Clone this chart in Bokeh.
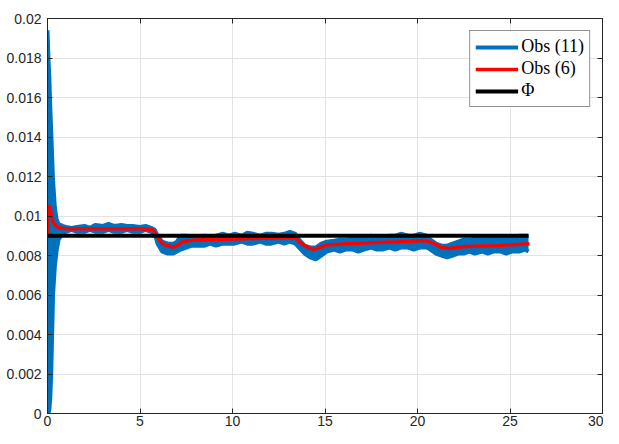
from bokeh.plotting import figure
from bokeh.models import Range1d, LinearAxis, FixedTicker, Legend, LegendItem
from bokeh.embed import file_html
from bokeh.resources import INLINE

# ---- data ----
x_ticks = [0, 5, 10, 15, 20, 25, 30]
y_ticks = [0, 0.002, 0.004, 0.006, 0.008, 0.01, 0.012, 0.014, 0.016, 0.018, 0.02]
y_tick_labels = ["0", "0.002", "0.004", "0.006", "0.008", "0.01",
                 "0.012", "0.014", "0.016", "0.018", "0.02"]

# Obs (11): noisy signal, given as its upper / lower envelope
blue_x = [0, 0.05, 0.1, 0.15, 0.2, 0.25, 0.3, 0.4, 0.5, 0.6, 0.8, 1.0, 1.3, 1.6, 2.0,
          2.3, 2.6, 3.0, 3.3, 3.6, 4.0, 4.3, 4.6, 5.0, 5.3, 5.6, 5.8, 5.95, 6.2, 6.5,
          6.8, 7.0, 7.2, 7.5, 7.8, 8.1, 8.5, 8.8, 9.1, 9.5, 9.8, 10.1, 10.5, 10.8, 11.1,
          11.5, 11.8, 12.1, 12.5, 12.8, 13.1, 13.4, 13.6, 13.9, 14.2, 14.5, 14.8, 15.1,
          15.5, 15.8, 16.1, 16.5, 16.8, 17.1, 17.5, 17.8, 18.1, 18.5, 18.8, 19.1, 19.5,
          19.8, 20.1, 20.5, 20.7, 21.0, 21.3, 21.6, 21.9, 22.2, 22.5, 22.8, 23.1, 23.5,
          23.8, 24.1, 24.5, 24.8, 25.1, 25.5, 25.8, 26.0]
blue_hi = [0.0194, 0.0180, 0.0170, 0.0155, 0.0143, 0.0130, 0.0118, 0.0104, 0.0098, 0.0096,
           0.0095, 0.00945, 0.0094, 0.00945, 0.0095, 0.0094, 0.00955, 0.0095, 0.0096, 0.0095,
           0.00955, 0.0095, 0.0095, 0.00945, 0.0095, 0.0094, 0.0093, 0.0090, 0.0087, 0.0086,
           0.0086, 0.0087, 0.0090, 0.0090, 0.0089, 0.00895, 0.0090, 0.0089, 0.0090, 0.0091,
           0.0090, 0.0091, 0.0090, 0.00915, 0.0091, 0.0090, 0.0091, 0.0091, 0.00905, 0.0091,
           0.0092, 0.0091, 0.0088, 0.0085, 0.0084, 0.0084, 0.0086, 0.0087, 0.00875, 0.0088,
           0.0088, 0.00885, 0.0089, 0.0089, 0.0090, 0.0089, 0.0089, 0.0090, 0.0090, 0.0091,
           0.0090, 0.0090, 0.0091, 0.0090, 0.0088, 0.0086, 0.0085, 0.0085, 0.0086, 0.0087,
           0.0088, 0.0088, 0.00885, 0.0089, 0.0088, 0.0089, 0.0089, 0.0089, 0.0089, 0.0090,
           0.0090, 0.0090]
blue_lo = [0.0, 0.0, 0.0002, 0.0008, 0.0020, 0.0040, 0.0060, 0.0075, 0.0083, 0.0088,
           0.0091, 0.0092, 0.0093, 0.0092, 0.0092, 0.0093, 0.0092, 0.0092, 0.0093, 0.0092,
           0.0092, 0.0093, 0.0092, 0.0092, 0.0093, 0.0092, 0.0091, 0.0086, 0.0082, 0.0081,
           0.0081, 0.0082, 0.0083, 0.0084, 0.0085, 0.0085, 0.0085, 0.0086, 0.0085, 0.0086,
           0.0086, 0.0086, 0.0087, 0.0086, 0.0086, 0.0087, 0.0086, 0.0086, 0.0087, 0.0086,
           0.0087, 0.0086, 0.0084, 0.0081, 0.0079, 0.0078, 0.0080, 0.0082, 0.0083, 0.0082,
           0.0083, 0.0083, 0.0082, 0.0083, 0.0084, 0.0083, 0.0083, 0.0084, 0.0083, 0.0084,
           0.0084, 0.0083, 0.0084, 0.0084, 0.0083, 0.0081, 0.0080, 0.0079, 0.0080, 0.0081,
           0.0081, 0.0082, 0.0081, 0.0082, 0.0081, 0.0082, 0.0082, 0.0081, 0.0082, 0.0082,
           0.0083, 0.0082]

# Obs (6)
red_x = [0, 0.05, 0.1, 0.2, 0.3, 0.45, 0.6, 1.0, 2.0, 3.0, 4.0, 5.0, 5.7, 5.9, 6.2, 6.5,
         6.8, 7.0, 7.3, 7.6, 8.0, 9.0, 10.0, 11.0, 12.0, 13.0, 13.4, 13.6, 13.9, 14.2,
         14.45, 14.7, 15.05, 16.0, 17.4, 19.0, 20.4, 20.6, 20.9, 21.3, 21.7, 22.1, 22.5,
         23.5, 24.3, 25.2, 26.05]
red_y = [0.0089, 0.0105, 0.0105, 0.0101, 0.0097, 0.0095, 0.0094, 0.00935, 0.00935, 0.00935,
         0.00935, 0.00935, 0.0093, 0.0090, 0.0086, 0.00848, 0.00843, 0.0085, 0.0087, 0.00875,
         0.00878, 0.00881, 0.00884, 0.00886, 0.00888, 0.0089, 0.0089, 0.0087, 0.0085, 0.00835,
         0.00832, 0.0084, 0.00853, 0.00858, 0.00865, 0.0087, 0.00876, 0.0087, 0.0086, 0.0084,
         0.00835, 0.0084, 0.00845, 0.00848, 0.0085, 0.00855, 0.0086]

# Phi
phi_x = [0, 26]
phi_y = [0.009, 0.009]

# ---- figure ----
AX = "#262626"
p = figure(width=603, height=428, output_backend="svg", toolbar_location=None,
           x_range=Range1d(0, 30), y_range=Range1d(0, 0.02),
           min_border_left=47, min_border_right=1, min_border_top=18, min_border_bottom=0,
           background_fill_color="white", border_fill_color="white")
p.outline_line_color = AX

for ax in (p.xaxis[0], p.yaxis[0]):
    ax.axis_line_color = AX
    ax.major_tick_line_color = AX
    ax.major_tick_in = 5
    ax.major_tick_out = 0
    ax.minor_tick_line_color = None
    ax.major_label_text_font = "Liberation Sans"
    ax.major_label_text_font_size = "14px"
    ax.major_label_text_color = AX

p.xaxis.ticker = FixedTicker(ticks=x_ticks)
p.xaxis.major_label_standoff = 2
p.yaxis.ticker = FixedTicker(ticks=y_ticks)
p.yaxis.major_label_overrides = {t: l for t, l in zip(y_ticks, y_tick_labels)}
p.yaxis.major_label_standoff = 6

top = LinearAxis(ticker=FixedTicker(ticks=x_ticks), major_label_text_font_size="0px",
                 major_label_text_color=None, major_label_text_alpha=0,
                 major_label_standoff=0, axis_line_color=AX, major_tick_line_color=AX,
                 major_tick_in=5, major_tick_out=0, minor_tick_line_color=None)
right = LinearAxis(ticker=FixedTicker(ticks=y_ticks), major_label_text_font_size="0px",
                   major_label_text_color=None, major_label_text_alpha=0,
                   major_label_standoff=0, axis_line_color=AX, major_tick_line_color=AX,
                   major_tick_in=5, major_tick_out=0, minor_tick_line_color=None)
p.add_layout(top, "above")
p.add_layout(right, "right")

p.xgrid.ticker = FixedTicker(ticks=x_ticks)
p.ygrid.ticker = FixedTicker(ticks=y_ticks)
p.xgrid.grid_line_color = "#e3e3e3"
p.ygrid.grid_line_color = "#e3e3e3"

BLUE = "#0072BD"
p.varea(x=blue_x, y1=blue_lo, y2=blue_hi, fill_color=BLUE, fill_alpha=1)
b_hi = p.line(blue_x, blue_hi, line_color=BLUE, line_width=4)
p.line(blue_x, blue_lo, line_color=BLUE, line_width=4)
r_line = p.line(red_x, red_y, line_color="#FF0000", line_width=3.5)
k_line = p.line(phi_x, phi_y, line_color="black", line_width=4)

legend = Legend(items=[LegendItem(label="Obs (11)", renderers=[b_hi]),
                       LegendItem(label="Obs (6)", renderers=[r_line]),
                       LegendItem(label="\u03a6", renderers=[k_line])],
                location="top_right", margin=12, padding=5, spacing=1,
                glyph_width=43, glyph_height=16, label_height=16, label_standoff=3,
                label_text_font="Liberation Serif", label_text_font_size="18px",
                label_text_color="black", border_line_color=AX, border_line_width=1,
                background_fill_color="white", background_fill_alpha=1)
p.add_layout(legend)

open("out.html", "w").write(file_html(p, INLINE))
